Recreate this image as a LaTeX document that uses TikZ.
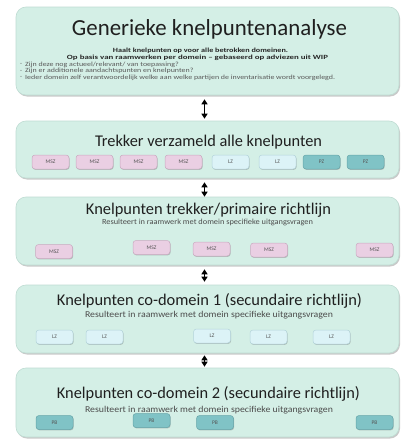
\documentclass[tikz,border=0pt]{standalone}
\usepackage{fontspec}
\usepackage{graphicx}
\setmainfont{Carlito}
\usetikzlibrary{shadows,arrows.meta}
\newcommand{\fitw}[2]{\resizebox{#1}{\height}{#2}}
\newcommand{\bulw}[1]{\scalebox{1.24}[1]{#1}}
\definecolor{boxbg}{HTML}{D4EFE6}
\definecolor{boxln}{HTML}{BFDCD3}
\definecolor{mszc}{HTML}{EACFE3}
\definecolor{mszl}{HTML}{C9A9C0}
\definecolor{lzc}{HTML}{DCF3F7}
\definecolor{lzl}{HTML}{B3D3DA}
\definecolor{pzc}{HTML}{80C3C6}
\definecolor{pzl}{HTML}{66A5A9}
\definecolor{tagtxt}{HTML}{555555}
\tikzset{
  panel/.style={draw=boxln, line width=0.6pt, fill=boxbg, rounded corners=10pt,
    minimum width=383pt, inner sep=0pt,
    drop shadow={shadow xshift=1pt, shadow yshift=-1.5pt, opacity=0.35, fill=black!60}},
  tag/.style={rounded corners=3pt, minimum width=37pt, minimum height=14pt, inner sep=0pt,
    font=\fontsize{5.5}{6}\selectfont, text=tagtxt, line width=0.5pt,
    drop shadow={shadow xshift=0.6pt, shadow yshift=-0.9pt, opacity=0.35, fill=black!60}},
  msz/.style={tag, fill=mszc, draw=mszl},
  lz/.style={tag, fill=lzc, draw=lzl},
  pz/.style={tag, fill=pzc, draw=pzl},
  ttl/.style={font=\fontsize{16.4}{18}\selectfont, text=black!88, inner sep=0pt},
  sub/.style={font=\fontsize{9}{10}\selectfont, text=black!70, inner sep=0pt},
  bul/.style={font=\fontsize{6.4}{7}\selectfont, text=black!65, inner sep=0pt, anchor=west},
  bld/.style={font=\fontsize{6.4}{7}\selectfont\bfseries, text=black!85, inner sep=0pt},
  arr/.style={{Triangle[width=6pt,length=5pt]}-{Triangle[width=6pt,length=5pt]}, line width=1.3pt, black}
}
\begin{document}
\begin{tikzpicture}[x=1pt,y=-1pt]
\useasboundingbox[fill=white] (0,0) rectangle (401,439);
% panels
\node[panel, minimum height=88pt] (b1) at (207.5,51) {};
\node[panel, minimum height=57pt] (b2) at (207.5,149.5) {};
\node[panel, minimum height=68pt] (b3) at (207.5,231) {};
\node[panel, minimum height=68pt] (b4) at (207.5,319) {};
\node[panel, minimum height=69pt] (b5) at (207.5,402.5) {};
% box 1 texts
\node[ttl, font=\fontsize{23}{26}\selectfont] (t1) at (209.5,29.5) {\fitw{275pt}{Generieke knelpuntenanalyse}};
\node[bld] (s1a) at (200.5,51) {\fitw{175pt}{Haalt knelpunten op voor alle betrokken domeinen.}};
\node[bld] (s1b) at (197.5,57.5) {\fitw{261pt}{Op basis van raamwerken per domein – gebaseerd op adviezen uit WIP}};
\node[bul] (d1) at (20,64.5) {-};
\node[bul] (d2) at (20,71) {-};
\node[bul] (d3) at (20,77.5) {-};
\node[bul] (u1) at (25,64.5) {\bulw{Zijn deze nog actueel/relevant/ van toepassing?}};
\node[bul] (u2) at (25,71) {\bulw{Zijn er additionele aandachtspunten en knelpunten?}};
\node[bul] (u3) at (25,77.5) {\bulw{Ieder domein zelf verantwoordelijk welke aan welke partijen de inventarisatie wordt voorgelegd.}};
% box 2
\node[ttl] (t2) at (208.5,142.5) {\fitw{227pt}{Trekker verzameld alle knelpunten}};
\node[msz] (m21) at (50.5,162) {MSZ};
\node[msz] (m22) at (94.5,162) {MSZ};
\node[msz] (m23) at (138.5,162) {MSZ};
\node[msz] (m24) at (183.5,162) {MSZ};
\node[lz] (l21) at (230.5,162) {LZ};
\node[lz] (l22) at (277.5,162) {LZ};
\node[pz] (p21) at (321.5,162) {PZ};
\node[pz] (p22) at (365.5,162) {PZ};
% box 3
\node[ttl] (t3) at (208.5,210.5) {\fitw{245pt}{Knelpunten trekker/primaire richtlijn}};
\node[sub, font=\fontsize{7.8}{9}\selectfont] (s3) at (207.5,222) {\fitw{211pt}{Resulteert in raamwerk met domein specifieke uitgangsvragen}};
\node[msz] (m31) at (54,251.5) {MSZ};
\node[msz] (m32) at (151.5,247.5) {MSZ};
\node[msz] (m33) at (211.5,249) {MSZ};
\node[msz] (m34) at (269,250) {MSZ};
\node[msz] (m35) at (374.5,250) {MSZ};
% box 4
\node[ttl] (t4) at (209.5,300.5) {\fitw{305pt}{Knelpunten co-domein 1 (secundaire richtlijn)}};
\node[sub] (s4) at (209,315) {\fitw{248pt}{Resulteert in raamwerk met domein specifieke uitgangsvragen}};
\node[lz] (l41) at (54.5,337) {LZ};
\node[lz] (l42) at (104.5,337) {LZ};
\node[lz] (l43) at (212,336) {LZ};
\node[lz] (l44) at (268.5,337) {LZ};
\node[lz] (l45) at (331.5,337) {LZ};
% box 5
\node[ttl] (t5) at (208.5,394) {\fitw{303pt}{Knelpunten co-domein 2 (secundaire richtlijn)}};
\node[sub] (s5) at (209,410) {\fitw{248pt}{Resulteert in raamwerk met domein specifieke uitgangsvragen}};
\node[pz] (p51) at (54.5,422.5) {PB};
\node[pz] (p52) at (151.5,420.5) {PB};
\node[pz] (p53) at (215,422.5) {PB};
\node[pz] (p54) at (374.5,422.5) {PB};
% arrows
\draw[arr, shorten <=4pt, shorten >=2pt] ([xshift=-3pt]b1.south) -- ([xshift=-3pt]b2.north);
\draw[arr, shorten <=4pt, shorten >=0pt] ([xshift=-3pt]b2.south) -- ([xshift=-3pt]b3.north);
\draw[arr, shorten <=4pt, shorten >=3pt] ([xshift=-3pt]b3.south) -- ([xshift=-3pt]b4.north);
\draw[arr, shorten <=2pt, shorten >=1pt] ([xshift=-3pt]b4.south) -- ([xshift=-3pt]b5.north);
\end{tikzpicture}
\end{document}
